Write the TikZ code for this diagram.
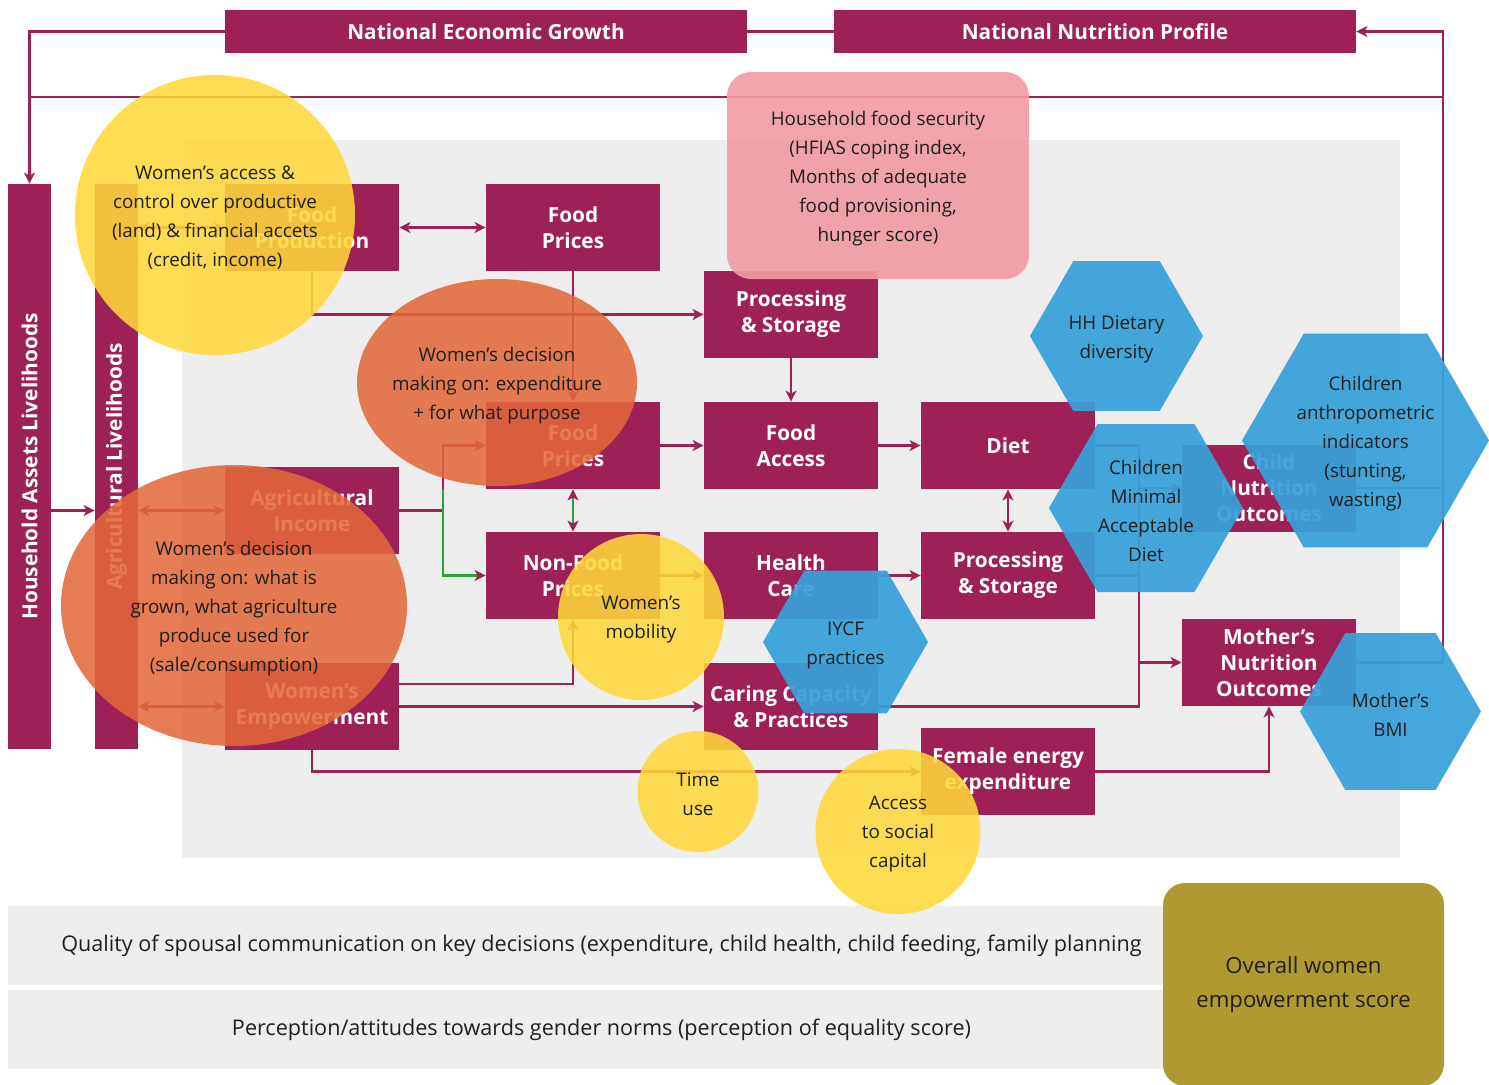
\documentclass[tikz,border=0pt]{standalone}
\usepackage{fontspec}
\setmainfont{Open Sans}
\usetikzlibrary{arrows.meta,shapes.geometric,calc}

\definecolor{plum}{RGB}{157,33,87}
\definecolor{bggray}{RGB}{237,237,237}
\definecolor{sunyellow}{RGB}{255,216,58}
\definecolor{burntorange}{RGB}{226,104,58}
\definecolor{skyblue}{RGB}{56,160,218}
\definecolor{rosepink}{RGB}{242,155,164}
\definecolor{mustard}{RGB}{174,154,48}
\definecolor{leafgreen}{RGB}{44,160,60}

\begin{document}
\begin{tikzpicture}[
        x=0.5pt, y=-0.5pt,
        box/.style={fill=plum, text=white, inner sep=0pt, align=center,
            font=\fontsize{10.4}{13}\selectfont\bfseries,
            minimum width=87pt, minimum height=43.5pt},
        banner/.style={box, minimum width=261pt, minimum height=21.5pt},
        pillar/.style={box, rotate=90, minimum width=282.5pt, minimum height=21.5pt},
        link/.style={plum, line width=1.1pt},
        greenlink/.style={leafgreen, line width=1.1pt},
        arrow/.style={link, -{Stealth[length=5.5pt, width=5.5pt, inset=1.5pt]}},
        twoway/.style={link, {Stealth[length=5.5pt, width=5.5pt, inset=1.5pt]}-{Stealth[length=5.5pt, width=5.5pt, inset=1.5pt]}},
        blob/.style={draw=none, inner sep=0pt, fill opacity=0.87},
        hexa/.style={blob, fill=skyblue, fill opacity=0.93, regular polygon, regular polygon sides=6},
        note/.style={align=center, text=black!88, yshift=-1.5pt, font=\fontsize{9.4}{14.5}\selectfont},
        band/.style={fill=bggray, minimum width=593.5pt, minimum height=39.5pt, inner sep=0pt,
            font=\fontsize{10.8}{13}\selectfont, text=black!88}
    ]
    \useasboundingbox (0,0) rectangle (1489,1084);

    % grey field behind the pathways
    \fill[bggray] (182,140) rectangle (1400,858);

    % overall scores
    \node[band] (talk) at (601.5,945.5) {Quality of spousal communication on key decisions (expenditure, child health, child feeding, family planning};
    \node[band] (norms) at (601.5,1029.5) {Perception/attitudes towards gender norms (perception of equality score)};
    \node[fill=mustard, rounded corners=11pt, inner sep=0pt, minimum width=140.5pt, minimum height=101.5pt,
        align=center, text=black!88, font=\fontsize{11.1}{17}\selectfont] (score) at (1303.5,984.5)
        {Overall women\\empowerment score};

    % national level
    \node[banner] (neg) at (486,31.5) {National Economic Growth};
    \node[banner] (nnp) at (1095,31.5) {National Nutrition Profile};
    \draw[link] (neg.east) -- (nnp.west);

    % livelihoods
    \node[pillar] (hal) at (29.5,466.5) {Household Assets Livelihoods};
    \node[pillar] (agl) at (116.5,466.5) {Agricultural Livelihoods};

    % pathway boxes
    \node[box] (foodprod) at (312,227.5) {Food\\Production};
    \node[box] (pricestop) at (573,227.5) {Food\\Prices};
    \node[box] (procA) at (791,314.5) {Processing\\\& Storage};
    \node[box] (pricesmid) at (573,445.5) {Food\\Prices};
    \node[box] (foodaccess) at (791,445.5) {Food\\Access};
    \node[box] (diet) at (1008,445.5) {Diet};
    \node[box] (agincome) at (312,510.5) {Agricultural\\Income};
    \node[box] (nonfood) at (573,575.5) {Non-Food\\Prices};
    \node[box] (health) at (791,575.5) {Health\\Care};
    \node[box] (procB) at (1008,575.5) {Processing\\\& Storage};
    \node[box] (womenemp) at (312,706.5) {Women’s\\Empowerment};
    \node[box] (caring) at (791,706.5) {Caring Capacity\\\& Practices};
    \node[box] (energy) at (1008,771.5) {Female energy\\expenditure};
    \node[box] (child) at (1269,488) {Child\\Nutrition\\Outcomes};
    \node[box] (mother) at (1269,662.5) {Mother’s\\Nutrition\\Outcomes};

    % feedback loop
    \coordinate (rtop) at (1443,31.5);
    \coordinate (rmid) at (1443,97);
    \coordinate (lmid) at (29.5,97);
    \draw[arrow] (neg.west) -| (hal.east);
    \draw[link] (rmid) -- (lmid);
    \draw[arrow] (child.east) -| (rtop) -- (nnp.east);
    \draw[link] (mother.east) -| (rmid);

    % livelihoods links
    \draw[arrow] (hal.south |- agincome.west) -- (agl.north |- agincome.west);
    \draw[twoway] (agl.south |- foodprod.west) -- (foodprod.west);
    \draw[twoway] (agl.south |- agincome.west) -- (agincome.west);
    \draw[twoway] (agl.south |- womenemp.west) -- (womenemp.west);

    % food pathway
    \draw[twoway] (foodprod.east) -- (pricestop.west);
    \draw[arrow] (pricestop.south) -- (pricesmid.north);
    \draw[arrow] (foodprod.south) |- (procA.west);
    \draw[arrow] (procA.south) -- (foodaccess.north);
    \draw[arrow] (pricesmid.east) -- (foodaccess.west);
    \draw[arrow] (foodaccess.east) -- (diet.west);
    \draw[twoway] (diet.south) -- (procB.north);
    \draw[greenlink, {Stealth[length=5.5pt, width=5.5pt, inset=1.5pt, color=plum]}-{Stealth[length=5.5pt, width=5.5pt, inset=1.5pt, color=plum]}]
        (pricesmid.south) -- (nonfood.north);

    % income pathway
    \coordinate (fork) at (443,510.5);
    \coordinate (forkgreen) at (443,489);
    \draw[arrow] (agincome.east) -- (fork) |- (pricesmid.west);
    \draw[greenlink, -{Stealth[length=5.5pt, width=5.5pt, inset=1.5pt, color=plum]}] (forkgreen) |- (nonfood.west);
    \draw[arrow] (nonfood.east) -- (health.west);
    \draw[arrow] (health.east) -- (procB.west);

    % women's empowerment pathway
    \draw[arrow] ([yshift=11.25pt]womenemp.east) -| (nonfood.south);
    \draw[arrow] (womenemp.east) -- (caring.west);
    \draw[arrow] (womenemp.south) |- (energy.west);
    \draw[arrow] (energy.east) -| (mother.south);

    % to the nutrition outcomes
    \coordinate (bustop) at (1139,445.5);
    \coordinate (busbot) at (1139,706.5);
    \draw[link] (diet.east) -- (bustop) -- (busbot) -- (caring.east);
    \draw[link] (procB.east) -- (procB.east -| bustop);
    \draw[arrow] (bustop |- child.west) -- (child.west);
    \draw[arrow] (bustop |- mother.west) -- (mother.west);

    % empowerment indicators laid over the pathways
    \node[blob, circle, fill=sunyellow, minimum size=140pt] (assets) at (215,215) {};
    \node[note] at (assets) {Women’s access \&\\control over productive\\(land) \& financial accets\\(credit, income)};
    \node[blob, fill=rosepink, fill opacity=0.92, rounded corners=12pt,
        minimum width=151pt, minimum height=103.5pt] (foodsec) at (878,175.5) {};
    \node[note] at (foodsec) {Household food security\\(HFIAS coping index,\\Months of adequate\\food provisioning,\\hunger score)};
    \node[blob, ellipse, fill=burntorange, minimum width=140pt, minimum height=103.5pt] (spend) at (497,382.5) {};
    \node[note] at (spend) {Women’s decision\\making on: expenditure\\+ for what purpose};
    \node[blob, ellipse, fill=burntorange, minimum width=173pt, minimum height=140.5pt] (grown) at (234,605.5) {};
    \node[note] at (grown) {Women’s decision\\making on: what is\\grown, what agriculture\\produce used for\\(sale/consumption)};
    \node[blob, circle, fill=sunyellow, minimum size=83pt] (mobility) at (641,617) {};
    \node[note] at (mobility) {Women’s\\mobility};
    \node[blob, circle, fill=sunyellow, minimum size=60.5pt] (timeuse) at (698,791.5) {};
    \node[note] at (timeuse) {Time\\use};
    \node[blob, circle, fill=sunyellow, minimum size=82.5pt] (social) at (898,831.5) {};
    \node[note] at (social) {Access\\to social\\capital};

    % nutrition indicators
    \node[hexa, minimum size=86.5pt] (hhdd) at (1116.5,336) {};
    \node[note] at (hhdd) {HH Dietary\\diversity};
    \node[hexa, minimum size=97pt] (mad) at (1146,508) {};
    \node[note] at (mad) {Children\\Minimal\\Acceptable\\Diet};
    \node[hexa, minimum size=123.5pt] (anthro) at (1365.5,440.5) {};
    \node[note] at (anthro) {Children\\anthropometric\\indicators\\(stunting,\\wasting)};
    \node[hexa, minimum size=82.5pt] (iycf) at (845.5,642) {};
    \node[note] at (iycf) {IYCF\\practices};
    \node[hexa, minimum size=90.5pt] (bmi) at (1390.5,711.5) {};
    \node[note] at (bmi) {Mother’s\\BMI};
\end{tikzpicture}
\end{document}
